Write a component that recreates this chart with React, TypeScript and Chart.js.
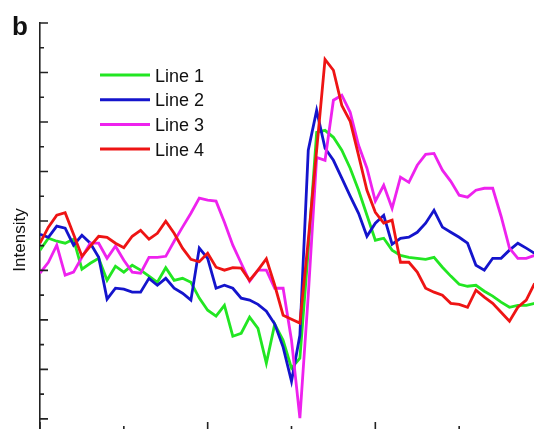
import React, { useEffect, useRef } from "react";
import { Chart, registerables } from "chart.js";

Chart.register(...registerables);

// ---------- data ----------
const seriesNames = ["Line 1", "Line 2", "Line 3", "Line 4"];
const seriesColors = ["#22e622", "#1414cc", "#ee22ee", "#ee1414"];

const line1 = [
  6.82, 7.3, 7.18, 7.1, 7.26, 6.05, 6.29, 6.49, 5.6, 6.17,
  5.93, 6.21, 6.01, 5.77, 5.52, 6.11, 5.6, 5.68, 5.52, 4.88,
  4.39, 4.15, 4.59, 3.34, 3.46, 4.11, 3.66, 2.25, 3.83, 3.18,
  2.05, 2.45, 6.82, 11.58, 11.66, 11.38, 10.86, 10.13, 9.24, 8.23,
  7.22, 7.3, 6.82, 6.61, 6.53, 6.49, 6.45, 6.53, 6.13, 5.77,
  5.44, 5.36, 5.4, 5.16, 4.96, 4.72, 4.51, 4.59, 4.59, 4.67,
];
const line2 = [
  7.46, 7.34, 7.79, 7.71, 7.02, 7.42, 7.1, 6.53, 4.84, 5.28,
  5.24, 5.12, 5.12, 5.68, 5.4, 5.68, 5.28, 5.08, 4.8, 6.9,
  6.49, 5.28, 5.4, 5.28, 4.88, 4.8, 4.63, 4.35, 3.83, 2.9,
  1.52, 3.38, 10.86, 12.47, 10.94, 10.45, 9.73, 9.0, 8.31, 7.38,
  7.91, 8.23, 7.06, 7.3, 7.34, 7.54, 7.91, 8.43, 7.75, 7.54,
  7.34, 7.1, 6.21, 6.01, 6.49, 6.49, 6.82, 7.1, 6.9, 6.69,
];
const line3 = [
  5.89, 6.33, 7.02, 5.81, 5.93, 6.53, 7.1, 7.1, 6.49, 6.98,
  6.41, 5.93, 5.89, 6.53, 6.53, 6.57, 7.18, 7.75, 8.31, 8.92,
  8.84, 8.8, 7.95, 7.02, 6.29, 5.56, 6.01, 6.01, 5.28, 5.28,
  3.18, 0.03, 5.0, 10.57, 10.45, 12.88, 13.08, 12.39, 11.06, 10.13,
  8.8, 9.44, 8.51, 9.77, 9.56, 10.25, 10.69, 10.73, 10.05, 9.6,
  9.04, 8.96, 9.24, 9.32, 9.32, 8.19, 6.9, 6.49, 6.49, 6.61,
];
const line4 = [
  7.1, 7.75, 8.23, 8.33, 7.46, 6.57, 6.98, 7.38, 7.34, 7.1,
  6.92, 7.38, 7.62, 7.26, 7.5, 7.99, 7.5, 6.9, 6.45, 6.35,
  6.69, 6.13, 6.01, 6.11, 6.09, 5.6, 6.01, 6.47, 5.4, 4.19,
  4.03, 3.87, 7.22, 10.86, 14.53, 14.09, 12.67, 12.03, 10.65, 9.24,
  8.35, 7.91, 8.03, 6.33, 6.33, 5.93, 5.28, 5.12, 5.0, 4.67,
  4.63, 4.51, 5.2, 4.92, 4.67, 4.31, 3.95, 4.51, 4.8, 5.48,
];
const seriesValues = [line1, line2, line3, line4];

const xMajorTicks = [0, 20, 40, 60];
const xMinorTicks = [10, 30, 50];
const yMajorTicks = [0, 2, 4, 6, 8, 10, 12, 14, 16];
const yMinorTicks = [1, 3, 5, 7, 9, 11, 13, 15];

const panelLabel = "b";
const yTitle = "Intensity";

const FONT = "'Liberation Sans', Arial, Helvetica, sans-serif";
const AXIS_COLOR = "#222";

const decorPlugin = {
  id: "decor",
  afterDraw(chart: any) {
    const { ctx, chartArea, scales } = chart;
    const xs = scales.x;
    const ys = scales.y;
    ctx.save();
    // tick marks (inward)
    ctx.strokeStyle = AXIS_COLOR;
    ctx.lineWidth = 1.6;
    ctx.beginPath();
    const left = chartArea.left;
    const bottom = chartArea.bottom;
    yMajorTicks.forEach((v) => {
      const y = ys.getPixelForValue(v);
      ctx.moveTo(left, y);
      ctx.lineTo(left + 8, y);
    });
    yMinorTicks.forEach((v) => {
      const y = ys.getPixelForValue(v);
      ctx.moveTo(left, y);
      ctx.lineTo(left + 4, y);
    });
    xMajorTicks.forEach((v) => {
      const x = xs.getPixelForValue(v);
      ctx.moveTo(x, bottom);
      ctx.lineTo(x, bottom - 8);
    });
    xMinorTicks.forEach((v) => {
      const x = xs.getPixelForValue(v);
      ctx.moveTo(x, bottom);
      ctx.lineTo(x, bottom - 4);
    });
    ctx.stroke();

    // panel label
    ctx.fillStyle = "#111";
    ctx.font = `bold 26px ${FONT}`;
    ctx.textAlign = "left";
    ctx.textBaseline = "alphabetic";
    ctx.fillText(panelLabel, 12, 35);

    // y title
    ctx.save();
    ctx.translate(25, 240);
    ctx.rotate(-Math.PI / 2);
    ctx.font = `17px ${FONT}`;
    ctx.textAlign = "center";
    ctx.fillText(yTitle, 0, 0);
    ctx.restore();

    // legend
    const lx = chartArea.left + 60;
    const ly = chartArea.top + 52;
    chart.data.datasets.forEach((ds: any, i: number) => {
      const y = ly + i * 24.7;
      ctx.strokeStyle = ds.borderColor;
      ctx.lineWidth = 3;
      ctx.beginPath();
      ctx.moveTo(lx, y);
      ctx.lineTo(lx + 50, y);
      ctx.stroke();
      ctx.fillStyle = "#111";
      ctx.font = `18px ${FONT}`;
      ctx.textAlign = "left";
      ctx.textBaseline = "alphabetic";
      ctx.fillText(ds.label, lx + 55, y + 6.7);
    });
    ctx.restore();
  },
};

export default function App() {
  const ref = useRef<HTMLCanvasElement | null>(null);
  useEffect(() => {
    if (!ref.current) return;
    const chart = new Chart(ref.current, {
      type: "line",
      data: {
        datasets: seriesValues.map((vals, si) => ({
          label: seriesNames[si],
          data: vals.map((v, i) => ({ x: i, y: v })),
          borderColor: seriesColors[si],
          backgroundColor: seriesColors[si],
          borderWidth: 2.8,
          pointRadius: 0,
          tension: 0,
          fill: false,
          order: 4 - si,
        })),
      },
      options: {
        animation: false,
        responsive: false,
        maintainAspectRatio: false,
        layout: { padding: { left: 40, top: 23, right: 17, bottom: 15 } },
        plugins: {
          legend: { display: false },
          tooltip: { enabled: false },
          title: { display: false },
        },
        scales: {
          x: {
            type: "linear",
            min: 0,
            max: 60,
            grid: { display: false, drawTicks: false, tickLength: 0 },
            ticks: { display: false, padding: 0 },
            border: { display: true, color: AXIS_COLOR, width: 1.6 },
          },
          y: {
            type: "linear",
            min: -0.45,
            max: 16,
            grid: { display: false, drawTicks: false, tickLength: 0 },
            ticks: { display: false, padding: 0 },
            border: { display: true, color: AXIS_COLOR, width: 1.6 },
          },
        },
      },
      plugins: [decorPlugin],
    });
    return () => chart.destroy();
  }, []);
  return (
    <div
      style={{
        position: "fixed",
        top: 0,
        left: 0,
        width: 534,
        height: 429,
        overflow: "hidden",
        background: "#fff",
      }}
    >
      <canvas
        ref={ref}
        width={560}
        height={445}
        style={{ display: "block", width: 560, height: 445 }}
      />
    </div>
  );
}
